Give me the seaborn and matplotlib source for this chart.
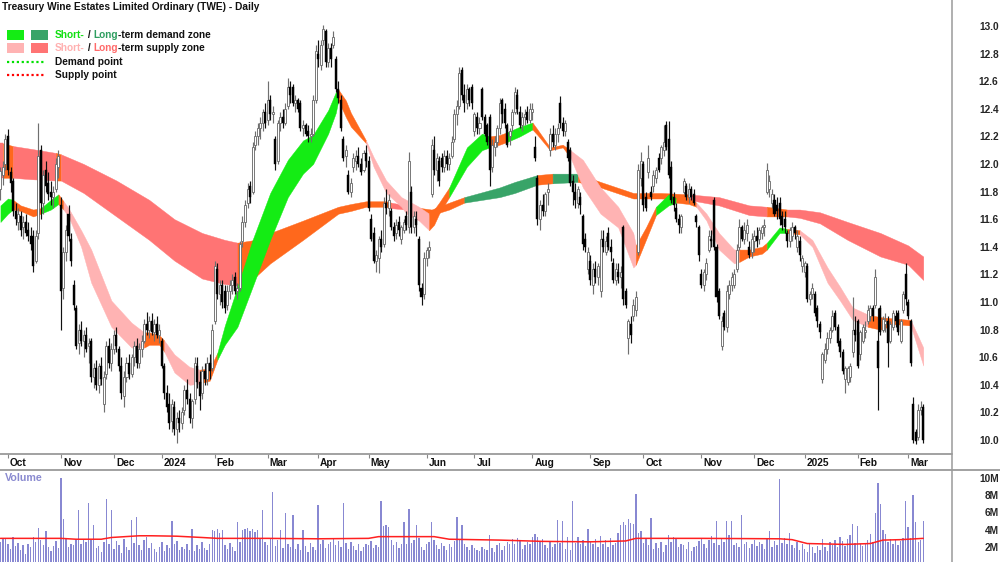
import numpy as np
import matplotlib
matplotlib.use("Agg")
import matplotlib.pyplot as plt
import seaborn as sns
from matplotlib.lines import Line2D
from matplotlib.patches import Rectangle
from matplotlib.text import Annotation

sns.set_theme(style="white")
plt.rcParams['font.family'] = ['Liberation Sans', 'DejaVu Sans']

# ---------------- data ----------------
title = "Treasury Wine Estates Limited Ordinary (TWE) - Daily"
month_labels = ["Oct", "Nov", "Dec", "2024", "Feb", "Mar", "Apr", "May", "Jun", "Jul",
                "Aug", "Sep", "Oct", "Nov", "Dec", "2025", "Feb", "Mar"]
month_start = [3, 24, 45, 64, 85, 106, 126, 146, 169, 188, 211, 234, 255, 278, 299, 319, 340, 360]

opens = [
    11.82, 11.92, 12.00, 12.20, 11.94, 11.88, 11.66, 11.58, 11.62, 11.54,
    11.58, 11.52, 11.48, 11.48, 11.30, 11.50, 12.10, 11.72, 11.96, 11.86,
    11.80, 11.76, 11.82, 11.98, 11.70, 11.10, 11.36, 11.64, 11.46, 11.12,
    10.96, 10.70, 10.80, 10.72, 10.76, 10.68, 10.72, 10.46, 10.52, 10.40,
    10.54, 10.26, 10.48, 10.68, 10.56, 10.66, 10.76, 10.66, 10.54, 10.32,
    10.46, 10.56, 10.48, 10.60, 10.68, 10.56, 10.66, 10.72, 10.84, 10.80,
    10.86, 10.78, 10.84, 10.76, 10.72, 10.54, 10.34, 10.26, 10.14, 10.24,
    10.08, 10.16, 10.12, 10.22, 10.36, 10.30, 10.16, 10.30, 10.54, 10.42,
    10.34, 10.50, 10.44, 10.56, 10.52, 10.86, 11.24, 11.06, 11.12, 11.08,
    10.98, 11.08, 11.12, 11.18, 11.08, 11.10, 11.44, 11.58, 11.72, 11.84,
    11.80, 12.14, 12.20, 12.26, 12.30, 12.38, 12.32, 12.46, 12.36, 12.18,
    12.02, 12.30, 12.34, 12.30, 12.42, 12.56, 12.56, 12.44, 12.46, 12.44,
    12.26, 12.28, 12.24, 12.20, 12.22, 12.46, 12.80, 12.72, 12.90, 12.96,
    12.74, 12.84, 12.86, 12.76, 12.54, 12.46, 12.18, 12.06, 11.92, 11.80,
    11.98, 12.02, 12.06, 12.00, 11.96, 12.08, 12.02, 11.60, 11.50, 11.30,
    11.32, 11.46, 11.42, 11.72, 11.68, 11.66, 11.54, 11.50, 11.58, 11.46,
    11.52, 11.62, 11.54, 11.80, 11.54, 11.60, 11.46, 11.10, 11.06, 11.32,
    11.38, 11.78, 12.10, 11.96, 12.02, 12.04, 11.98, 12.06, 12.00, 12.06,
    12.18, 12.36, 12.42, 12.68, 12.50, 12.44, 12.54, 12.56, 12.24, 12.34,
    12.26, 12.54, 12.34, 12.28, 12.34, 11.98, 12.12, 12.16, 12.26, 12.46,
    12.40, 12.28, 12.20, 12.28, 12.38, 12.50, 12.38, 12.28, 12.34, 12.38,
    12.32, 12.38, 12.12, 11.90, 11.60, 11.70, 11.66, 11.80, 12.10, 12.22,
    12.14, 12.22, 12.44, 12.30, 12.24, 12.16, 12.10, 11.88, 11.80, 11.72,
    11.76, 11.62, 11.46, 11.24, 11.30, 11.12, 11.24, 11.18, 11.08, 11.46,
    11.36, 11.50, 11.40, 11.28, 11.16, 11.22, 11.18, 11.54, 11.08, 10.74,
    10.84, 10.90, 10.94, 11.36, 11.90, 12.00, 11.76, 11.94, 11.80, 11.84,
    11.90, 12.04, 12.04, 12.10, 12.28, 12.18, 11.98, 11.76, 11.68, 11.60,
    11.54, 11.80, 11.84, 11.76, 11.82, 11.78, 11.62, 11.54, 11.20, 11.12,
    11.20, 11.38, 11.46, 11.74, 11.40, 11.08, 10.68, 10.92, 10.82, 11.06,
    11.12, 11.12, 11.24, 11.40, 11.54, 11.46, 11.50, 11.40, 11.36, 11.44,
    11.48, 11.46, 11.50, 11.54, 11.80, 11.82, 11.72, 11.74, 11.70, 11.72,
    11.62, 11.60, 11.50, 11.44, 11.48, 11.54, 11.40, 11.44, 11.26, 11.22,
    11.26, 11.02, 11.06, 11.06, 10.96, 10.84, 10.44, 10.58, 10.66, 10.74,
    10.80, 10.92, 10.82, 10.72, 10.64, 10.44, 10.42, 10.46, 10.64, 10.80,
    10.86, 10.62, 10.72, 10.78, 10.86, 10.90, 10.96, 10.98, 10.72, 10.96,
    10.80, 10.84, 10.86, 10.72, 10.82, 10.90, 10.92, 10.72, 10.94, 11.20,
    11.00, 10.86, 10.26, 10.06, 10.02, 10.22, 10.24]

highs = [
    11.98, 12.02, 12.22, 12.25, 11.98, 11.90, 11.72, 11.68, 11.66, 11.62,
    11.64, 11.58, 11.54, 11.52, 11.52, 12.30, 12.14, 11.96, 12.02, 11.94,
    11.88, 11.84, 12.04, 12.10, 11.76, 11.40, 11.56, 11.70, 11.50, 11.16,
    10.98, 10.84, 10.86, 10.80, 10.82, 10.74, 10.74, 10.56, 10.58, 10.56,
    10.60, 10.50, 10.72, 10.74, 10.70, 10.80, 10.82, 10.68, 10.60, 10.50,
    10.60, 10.62, 10.62, 10.72, 10.74, 10.70, 10.76, 10.88, 10.93, 10.90,
    10.92, 10.88, 10.90, 10.84, 10.74, 10.56, 10.40, 10.34, 10.30, 10.28,
    10.20, 10.22, 10.24, 10.40, 10.44, 10.34, 10.30, 10.60, 10.60, 10.50,
    10.54, 10.56, 10.60, 10.62, 10.84, 11.30, 11.28, 11.16, 11.16, 11.12,
    11.12, 11.16, 11.20, 11.22, 11.14, 11.44, 11.62, 11.74, 11.86, 11.88,
    12.16, 12.24, 12.30, 12.34, 12.40, 12.44, 12.60, 12.50, 12.42, 12.20,
    12.32, 12.38, 12.40, 12.44, 12.62, 12.60, 12.58, 12.50, 12.48, 12.46,
    12.32, 12.30, 12.28, 12.26, 12.50, 12.86, 12.90, 12.90, 13.01, 12.98,
    12.88, 12.88, 12.96, 12.78, 12.60, 12.50, 12.20, 12.14, 11.96, 11.90,
    12.08, 12.10, 12.12, 12.04, 12.10, 12.14, 12.06, 11.64, 11.54, 11.38,
    11.48, 11.52, 11.76, 11.82, 11.78, 11.68, 11.58, 11.60, 11.62, 11.56,
    11.60, 11.66, 12.09, 11.84, 11.66, 11.66, 11.48, 11.14, 11.36, 11.40,
    11.44, 12.18, 12.20, 12.08, 12.06, 12.08, 12.10, 12.10, 12.08, 12.20,
    12.40, 12.46, 12.70, 12.70, 12.58, 12.58, 12.56, 12.58, 12.38, 12.38,
    12.34, 12.56, 12.36, 12.30, 12.36, 12.18, 12.20, 12.28, 12.48, 12.48,
    12.44, 12.30, 12.26, 12.40, 12.56, 12.54, 12.42, 12.38, 12.40, 12.42,
    12.44, 12.44, 12.20, 11.92, 11.74, 11.78, 11.80, 11.86, 12.26, 12.28,
    12.26, 12.30, 12.49, 12.34, 12.32, 12.18, 12.12, 11.92, 11.86, 11.84,
    11.80, 11.64, 11.50, 11.40, 11.34, 11.28, 11.30, 11.28, 11.52, 11.52,
    11.48, 11.54, 11.46, 11.32, 11.28, 11.28, 11.26, 11.56, 11.10, 10.88,
    10.90, 11.02, 11.08, 12.00, 12.09, 12.02, 11.80, 12.14, 11.84, 11.96,
    11.98, 12.08, 12.14, 12.28, 12.31, 12.31, 12.02, 11.80, 11.72, 11.64,
    11.64, 11.90, 11.86, 11.86, 11.84, 11.82, 11.64, 11.56, 11.24, 11.24,
    11.32, 11.52, 11.52, 11.76, 11.42, 11.10, 10.90, 10.94, 11.12, 11.16,
    11.22, 11.24, 11.42, 11.60, 11.56, 11.58, 11.60, 11.44, 11.50, 11.52,
    11.54, 11.54, 11.56, 11.60, 12.01, 11.92, 11.82, 11.78, 11.76, 11.76,
    11.66, 11.66, 11.52, 11.54, 11.58, 11.56, 11.52, 11.48, 11.34, 11.30,
    11.28, 11.08, 11.14, 11.08, 10.98, 10.86, 10.64, 10.70, 10.78, 10.82,
    10.94, 10.94, 10.84, 10.74, 10.66, 10.54, 10.54, 10.56, 11.04, 10.90,
    10.88, 10.80, 10.84, 10.86, 10.98, 10.98, 10.98, 11.24, 10.96, 10.98,
    10.90, 10.92, 10.90, 10.86, 10.94, 10.94, 10.94, 10.88, 11.08, 11.28,
    11.02, 10.88, 10.31, 10.08, 10.26, 10.28, 10.26]

lows = [
    11.74, 11.85, 11.96, 11.92, 11.80, 11.62, 11.56, 11.52, 11.48, 11.46,
    11.48, 11.44, 11.38, 11.22, 11.28, 11.46, 11.60, 11.64, 11.80, 11.74,
    11.70, 11.68, 11.80, 11.90, 10.80, 11.02, 11.30, 11.44, 11.26, 10.94,
    10.66, 10.62, 10.68, 10.60, 10.64, 10.56, 10.42, 10.38, 10.36, 10.34,
    10.40, 10.20, 10.44, 10.52, 10.50, 10.62, 10.64, 10.50, 10.30, 10.24,
    10.42, 10.44, 10.46, 10.54, 10.52, 10.52, 10.60, 10.70, 10.76, 10.74,
    10.76, 10.72, 10.74, 10.70, 10.52, 10.30, 10.20, 10.08, 10.06, 10.04,
    9.98, 10.06, 10.08, 10.18, 10.26, 10.12, 10.09, 10.26, 10.38, 10.22,
    10.30, 10.40, 10.40, 10.44, 10.50, 10.84, 11.02, 10.98, 10.96, 10.92,
    10.94, 11.02, 11.06, 11.06, 11.02, 11.08, 11.40, 11.54, 11.68, 11.72,
    11.78, 12.10, 12.14, 12.18, 12.24, 12.26, 12.28, 12.32, 12.30, 11.96,
    12.00, 12.24, 12.26, 12.28, 12.40, 12.44, 12.42, 12.38, 12.38, 12.24,
    12.20, 12.20, 12.16, 12.16, 12.20, 12.44, 12.70, 12.68, 12.86, 12.70,
    12.70, 12.70, 12.84, 12.52, 12.44, 12.24, 12.02, 11.98, 11.78, 11.76,
    11.94, 11.96, 11.98, 11.92, 11.94, 11.98, 11.66, 11.44, 11.28, 11.22,
    11.21, 11.36, 11.40, 11.64, 11.62, 11.52, 11.44, 11.46, 11.48, 11.42,
    11.50, 11.52, 11.50, 11.50, 11.50, 11.48, 11.08, 10.98, 11.02, 11.26,
    11.32, 11.76, 11.92, 11.88, 11.84, 11.94, 11.94, 11.96, 11.96, 12.04,
    12.16, 12.28, 12.40, 12.46, 12.38, 12.40, 12.42, 12.40, 12.20, 12.22,
    12.22, 12.32, 12.20, 12.14, 11.84, 11.94, 12.06, 12.12, 12.22, 12.30,
    12.26, 12.12, 12.14, 12.24, 12.36, 12.36, 12.26, 12.24, 12.28, 12.30,
    12.30, 12.32, 12.02, 11.56, 11.52, 11.62, 11.62, 11.70, 12.06, 12.12,
    12.10, 12.16, 12.26, 12.20, 12.20, 12.02, 11.84, 11.70, 11.68, 11.68,
    11.64, 11.38, 11.36, 11.20, 11.12, 11.06, 11.14, 11.12, 11.04, 11.36,
    11.34, 11.38, 11.30, 11.14, 11.12, 11.14, 11.10, 10.98, 10.96, 10.62,
    10.70, 10.86, 10.90, 11.34, 11.84, 11.66, 11.66, 11.90, 11.74, 11.80,
    11.86, 11.94, 12.00, 12.06, 12.10, 11.90, 11.72, 11.66, 11.58, 11.50,
    11.50, 11.78, 11.74, 11.72, 11.74, 11.70, 11.54, 11.30, 11.10, 11.08,
    11.16, 11.36, 11.40, 11.38, 11.00, 10.88, 10.65, 10.80, 10.78, 11.02,
    11.08, 11.10, 11.22, 11.38, 11.44, 11.42, 11.44, 11.32, 11.32, 11.36,
    11.40, 11.42, 11.46, 11.48, 11.78, 11.76, 11.68, 11.62, 11.60, 11.56,
    11.52, 11.50, 11.40, 11.40, 11.44, 11.46, 11.36, 11.30, 11.22, 11.18,
    11.00, 10.98, 11.02, 10.90, 10.82, 10.74, 10.41, 10.56, 10.62, 10.70,
    10.78, 10.80, 10.68, 10.60, 10.48, 10.34, 10.40, 10.42, 10.60, 10.72,
    10.52, 10.58, 10.70, 10.74, 10.84, 10.86, 10.86, 10.96, 10.22, 10.76,
    10.78, 10.78, 10.53, 10.70, 10.80, 10.82, 10.76, 10.70, 10.92, 10.98,
    10.88, 10.54, 9.98, 9.97, 10.00, 10.18, 9.98]

closes = [
    11.95, 11.98, 12.18, 11.96, 11.86, 11.66, 11.60, 11.64, 11.52, 11.58,
    11.50, 11.48, 11.42, 11.26, 11.48, 12.06, 11.72, 11.92, 11.84, 11.78,
    11.76, 11.80, 12.00, 12.06, 11.08, 11.36, 11.52, 11.48, 11.30, 10.98,
    10.68, 10.80, 10.72, 10.76, 10.66, 10.70, 10.46, 10.52, 10.40, 10.54,
    10.44, 10.46, 10.68, 10.56, 10.66, 10.76, 10.68, 10.54, 10.34, 10.46,
    10.56, 10.48, 10.60, 10.68, 10.56, 10.66, 10.72, 10.84, 10.80, 10.86,
    10.78, 10.84, 10.76, 10.80, 10.54, 10.34, 10.24, 10.12, 10.26, 10.08,
    10.16, 10.12, 10.20, 10.36, 10.30, 10.16, 10.28, 10.56, 10.42, 10.32,
    10.50, 10.44, 10.56, 10.50, 10.80, 11.26, 11.06, 11.12, 11.00, 10.96,
    11.08, 11.12, 11.16, 11.08, 11.10, 11.42, 11.58, 11.70, 11.82, 11.76,
    12.12, 12.20, 12.26, 12.30, 12.38, 12.30, 12.46, 12.36, 12.38, 12.00,
    12.30, 12.34, 12.30, 12.40, 12.56, 12.50, 12.44, 12.46, 12.40, 12.26,
    12.28, 12.22, 12.20, 12.22, 12.46, 12.82, 12.76, 12.86, 12.98, 12.74,
    12.84, 12.76, 12.92, 12.54, 12.48, 12.26, 12.04, 12.10, 11.80, 11.86,
    12.04, 12.06, 12.00, 11.94, 12.08, 12.02, 11.68, 11.46, 11.30, 11.34,
    11.46, 11.40, 11.72, 11.68, 11.74, 11.54, 11.48, 11.56, 11.52, 11.54,
    11.58, 11.56, 12.02, 11.54, 11.62, 11.56, 11.12, 11.04, 11.32, 11.38,
    11.40, 12.14, 11.96, 12.04, 11.88, 11.98, 12.06, 12.00, 12.04, 12.16,
    12.36, 12.42, 12.66, 12.50, 12.44, 12.54, 12.46, 12.44, 12.36, 12.26,
    12.30, 12.34, 12.22, 12.16, 11.96, 12.14, 12.16, 12.26, 12.44, 12.36,
    12.30, 12.14, 12.24, 12.38, 12.52, 12.40, 12.28, 12.34, 12.36, 12.32,
    12.40, 12.40, 12.04, 11.60, 11.70, 11.66, 11.78, 11.82, 12.22, 12.16,
    12.22, 12.26, 12.30, 12.24, 12.30, 12.04, 11.86, 11.80, 11.74, 11.82,
    11.70, 11.42, 11.40, 11.36, 11.16, 11.24, 11.18, 11.26, 11.46, 11.40,
    11.44, 11.40, 11.36, 11.16, 11.24, 11.18, 11.22, 11.02, 10.98, 10.86,
    10.76, 10.98, 11.04, 11.96, 12.02, 11.70, 11.68, 12.04, 11.76, 11.92,
    11.96, 11.96, 12.12, 12.16, 12.12, 11.92, 11.74, 11.70, 11.60, 11.56,
    11.62, 11.88, 11.76, 11.82, 11.76, 11.72, 11.58, 11.34, 11.12, 11.22,
    11.28, 11.48, 11.44, 11.40, 11.04, 10.90, 10.86, 10.82, 11.08, 11.12,
    11.18, 11.20, 11.38, 11.54, 11.46, 11.52, 11.56, 11.34, 11.46, 11.48,
    11.44, 11.52, 11.54, 11.56, 11.96, 11.88, 11.78, 11.64, 11.66, 11.60,
    11.56, 11.54, 11.44, 11.52, 11.54, 11.50, 11.48, 11.34, 11.32, 11.28,
    11.02, 11.06, 11.10, 10.92, 10.86, 10.78, 10.62, 10.66, 10.74, 10.80,
    10.90, 10.82, 10.70, 10.64, 10.50, 10.52, 10.52, 10.54, 10.80, 10.76,
    10.54, 10.78, 10.82, 10.80, 10.94, 10.96, 10.90, 11.18, 10.52, 10.78,
    10.88, 10.86, 10.70, 10.84, 10.92, 10.86, 10.78, 10.86, 11.06, 11.02,
    10.90, 10.56, 10.00, 9.99, 10.22, 10.24, 10.00]

volume_m = [
    2.6, 3.0, 2.9, 2.4, 1.8, 3.2, 2.1, 2.5, 1.6, 2.2,
    1.2, 2.3, 2.0, 3.1, 2.6, 4.2, 2.8, 2.2, 3.9, 2.0,
    1.5, 2.1, 2.7, 1.9, 10.0, 5.3, 2.9, 2.0, 2.3, 2.2,
    2.9, 6.3, 2.4, 2.9, 2.6, 7.1, 2.8, 4.5, 1.9, 2.1,
    1.4, 2.6, 7.6, 2.3, 6.3, 1.8, 2.7, 2.2, 1.3, 2.9,
    2.0, 1.6, 5.1, 2.5, 5.5, 2.2, 1.7, 2.8, 3.2, 1.9,
    2.5, 1.8, 1.4, 2.0, 2.6, 1.5, 2.2, 1.9, 5.0, 2.3,
    2.7, 1.6, 2.0, 1.8, 2.4, 1.7, 4.1, 1.5, 2.2, 1.8,
    2.6, 1.9, 1.6, 2.3, 4.0, 3.9, 4.1, 3.6, 4.0, 2.2,
    1.8, 2.5, 2.0, 1.5, 4.9, 2.6, 4.0, 4.1, 4.2, 3.8,
    4.1, 3.7, 4.0, 2.9, 6.3, 2.6, 2.2, 3.0, 8.4, 2.1,
    2.8, 4.0, 1.9, 5.9, 2.4, 2.0, 5.7, 1.8, 2.3, 1.6,
    4.0, 2.1, 1.4, 2.5, 2.0, 1.7, 6.9, 2.3, 2.8, 1.9,
    2.4, 2.6, 3.0, 2.2, 2.7, 2.0, 7.1, 2.5, 1.8, 2.6,
    2.1, 1.7, 2.3, 1.5, 2.0, 2.4, 2.2, 2.7, 1.9, 2.2,
    2.0, 7.3, 4.4, 4.5, 4.3, 2.8, 2.2, 2.6, 1.9, 2.4,
    4.9, 2.3, 6.4, 2.5, 2.8, 4.5, 3.0, 2.0, 1.7, 2.3,
    2.6, 4.9, 2.8, 2.2, 1.8, 2.5, 2.1, 1.6, 2.4, 2.0,
    2.7, 5.5, 2.9, 4.6, 2.4, 2.0, 1.6, 2.2, 1.9, 1.7,
    1.5, 2.0, 1.8, 1.6, 3.4, 1.9, 1.4, 2.2, 2.5, 1.7,
    2.1, 2.6, 2.4, 2.9, 2.3, 3.0, 2.7, 1.8, 2.2, 2.6,
    2.4, 3.2, 3.5, 3.1, 2.6, 2.9, 2.2, 1.9, 2.6, 2.0,
    2.3, 5.1, 2.5, 5.0, 1.8, 3.2, 1.6, 7.3, 2.5, 3.2,
    2.4, 2.8, 2.1, 4.1, 2.6, 2.3, 2.9, 2.0, 3.3, 2.4,
    2.8, 2.0, 3.0, 2.2, 2.5, 3.6, 4.5, 4.9, 4.6, 5.2,
    4.8, 4.7, 8.2, 3.6, 3.8, 2.5, 2.9, 2.2, 5.4, 1.8,
    2.5, 1.9, 2.6, 1.4, 2.2, 3.4, 2.6, 3.1, 2.9, 2.0,
    2.4, 2.2, 1.8, 2.6, 1.5, 2.0, 2.1, 2.7, 3.0, 2.4,
    1.9, 2.8, 3.3, 2.5, 5.0, 2.2, 3.0, 2.6, 5.0, 3.4,
    5.0, 2.2, 2.5, 2.0, 5.7, 2.3, 2.6, 1.9, 2.4, 2.8,
    2.1, 2.6, 2.3, 1.8, 2.9, 3.8, 2.0, 2.7, 2.2, 9.9,
    2.5, 3.0, 2.4, 3.6, 2.2, 1.9, 2.6, 1.6, 2.3, 1.8,
    1.4, 2.4, 2.0, 1.3, 2.1, 1.7, 2.9, 2.0, 1.5, 2.6,
    2.2, 2.8, 2.0, 3.2, 2.7, 2.1, 2.9, 3.4, 4.7, 2.5,
    4.4, 2.3, 2.1, 2.4, 2.8, 3.5, 2.6, 5.9, 9.4, 7.0,
    4.0, 3.5, 2.6, 2.9, 2.3, 2.8, 2.2, 2.7, 3.0, 7.3,
    4.3, 3.0, 8.0, 4.9, 2.6, 2.8, 5.0]

ma_idx = [0, 24, 30, 40, 44, 55, 60, 70, 80, 86, 106, 126, 146, 150, 172,
          178, 198, 215, 234, 248, 252, 278, 309, 314, 320, 335, 345, 350, 357, 366]
ma_vals = [3.0, 3.0, 2.9, 2.9, 3.1, 3.3, 3.3, 3.25, 3.1, 3.0, 3.0, 2.95, 3.0, 3.2, 3.2,
           2.9, 2.8, 2.65, 2.6, 2.7, 3.0, 3.0, 2.95, 2.85, 2.4, 2.3, 2.4, 2.8, 2.85, 3.0]

# short-term zone (sampled bar index, upper edge, lower edge, state of following stretch)
short_idx = [0, 3, 5, 8, 13, 16, 20, 23, 25, 27,
             32, 36, 44, 52, 57, 59, 63, 65, 69, 75,
             79, 83, 86, 89, 94, 100, 107, 114, 120, 124,
             130, 133, 134, 137, 139, 145, 148, 153, 159, 161,
             166, 170, 172, 174, 178, 185, 191, 194, 198, 201,
             206, 211, 213, 218, 223, 226, 231, 238, 245, 251,
             252, 256, 260, 265, 268, 273, 276, 280, 285, 291,
             293, 297, 302, 304, 309, 312, 317, 322, 328, 333,
             338, 344, 349, 355, 361, 366]
short_top = [11.70, 11.75, 11.74, 11.70, 11.67, 11.68, 11.74, 11.78, 11.73, 11.68,
             11.52, 11.38, 11.01, 10.85, 10.78, 10.78, 10.76, 10.72, 10.62, 10.53,
             10.51, 10.52, 10.63, 10.83, 11.11, 11.45, 11.79, 12.03, 12.17, 12.21,
             12.39, 12.52, 12.54, 12.46, 12.37, 12.17, 12.05, 11.88, 11.76, 11.74,
             11.69, 11.64, 11.67, 11.72, 11.83, 12.12, 12.22, 12.20, 12.21, 12.23,
             12.27, 12.30, 12.25, 12.12, 12.14, 12.10, 12.03, 11.83, 11.69, 11.50,
             11.41, 11.54, 11.69, 11.78, 11.75, 11.75, 11.72, 11.64, 11.50, 11.38,
             11.38, 11.38, 11.40, 11.43, 11.54, 11.53, 11.52, 11.45, 11.25, 11.11,
             10.96, 10.91, 10.89, 10.88, 10.87, 10.67]
short_bot = [11.58, 11.64, 11.67, 11.66, 11.62, 11.64, 11.67, 11.71, 11.67, 11.62,
             11.40, 11.14, 10.82, 10.67, 10.67, 10.69, 10.69, 10.64, 10.49, 10.40,
             10.41, 10.43, 10.58, 10.69, 10.82, 11.11, 11.45, 11.76, 11.93, 12.00,
             12.22, 12.37, 12.46, 12.34, 12.27, 12.15, 11.98, 11.79, 11.69, 11.64,
             11.59, 11.52, 11.56, 11.64, 11.76, 11.98, 12.10, 12.12, 12.14, 12.16,
             12.20, 12.25, 12.21, 12.10, 12.12, 12.05, 11.83, 11.64, 11.54, 11.25,
             11.27, 11.45, 11.63, 11.70, 11.72, 11.71, 11.69, 11.59, 11.38, 11.28,
             11.29, 11.33, 11.35, 11.38, 11.50, 11.50, 11.49, 11.40, 11.14, 11.01,
             10.87, 10.82, 10.80, 10.84, 10.83, 10.54]
short_state = ("DDNNNDDNSS" "SSSSNNNSSS" "NNDDDDDDDD" "DDNNNSSSSS" "SNNNDDDNND"
               "DNNNNSSSSS" "NNDDNNSSSS" "NNNDDNSSSS" "SNNNSS")

long_idx = [0, 1, 5, 12, 22, 24, 33, 46, 59, 69,
            80, 89, 94, 101, 107, 120, 134, 139, 145, 153,
            155, 161, 163, 171, 178, 184, 198, 204, 213, 219,
            229, 238, 251, 262, 273, 285, 297, 304, 312, 317,
            325, 336, 349, 360, 366]
long_top = [12.15, 12.15, 12.13, 12.11, 12.08, 12.07, 12.00, 11.88, 11.74, 11.60,
            11.50, 11.45, 11.43, 11.45, 11.50, 11.59, 11.69, 11.71, 11.73, 11.73,
            11.72, 11.70, 11.69, 11.67, 11.72, 11.76, 11.83, 11.87, 11.92, 11.93,
            11.93, 11.87, 11.79, 11.79, 11.78, 11.76, 11.70, 11.69, 11.67, 11.67,
            11.65, 11.58, 11.50, 11.41, 11.33]
long_bot = [11.90, 11.90, 11.90, 11.89, 11.88, 11.88, 11.79, 11.62, 11.45, 11.30,
            11.17, 11.13, 11.12, 11.18, 11.28, 11.45, 11.64, 11.66, 11.69, 11.69,
            11.68, 11.67, 11.66, 11.63, 11.67, 11.72, 11.76, 11.79, 11.85, 11.86,
            11.87, 11.83, 11.75, 11.75, 11.74, 11.70, 11.63, 11.62, 11.62, 11.61,
            11.57, 11.45, 11.33, 11.27, 11.16]
long_state = "SNSSNSSSSS" "SSNNNNNNNN" "SSNNNLLLNL" "NNNNSSSNSS" "SSSSS"

# ---------------- styling ----------------
C_SHORT = {"D": "#14ec14", "S": "#ffb3b3", "N": "#ff681c"}
C_LONG = {"L": "#38a468", "S": "#ff7474", "N": "#ff681c"}
VOL_COLOR = "#8888d2"
FS = 7.3

W, H = 1000, 562
fig = plt.figure(figsize=(W / 100, H / 100), dpi=100)
fig.patch.set_facecolor("white")


def rect(l, t, r, b):
    return [l / W, 1 - b / H, (r - l) / W, (b - t) / H]


ax = fig.add_axes(rect(0, 0, 952, 454))
axl = fig.add_axes(rect(0, 454, 952, 469))
axv = fig.add_axes(rect(0, 469, 952, 562))

XL = (-0.17, 377.4)


def draw_zone(axis, idx, top, bot, states, cmap):
    idx = np.asarray(idx, float)
    top = np.asarray(top, float)
    bot = np.asarray(bot, float)
    start = 0
    n = len(idx)
    for k in range(1, n):
        if k == n - 1 or states[k] != states[start]:
            sl = slice(start, k + 1)
            axis.fill_between(idx[sl], bot[sl], top[sl], color=cmap[states[start]],
                              linewidth=0.3, edgecolor=cmap[states[start]], zorder=1)
            start = k


draw_zone(ax, long_idx, long_top, long_bot, long_state, C_LONG)
draw_zone(ax, short_idx, short_top, short_bot, short_state, C_SHORT)

# candles
o = np.array(opens); h = np.array(highs); l = np.array(lows); c = np.array(closes)
x = np.arange(len(c))
up = c >= o
body_bot = np.minimum(o, c)
body_h = np.maximum(np.abs(c - o), 0.012)
ax.vlines(x[up], l[up], h[up], color="#6f6f6f", linewidth=0.85, zorder=3)
ax.vlines(x[~up], l[~up], h[~up], color="#111111", linewidth=0.85, zorder=3)
ax.bar(x[up], body_h[up], bottom=body_bot[up], width=0.8, facecolor="white",
       edgecolor="#6f6f6f", linewidth=0.65, zorder=4)
ax.bar(x[~up], body_h[~up], bottom=body_bot[~up], width=0.8, facecolor="black",
       edgecolor="black", linewidth=0.3, zorder=4)

ax.set_xlim(*XL)
ax.set_ylim(9.899, 13.188)
price_ticks = np.round(np.arange(10.0, 13.01, 0.2), 1)
ax.yaxis.tick_right()
ax.set_yticks(price_ticks)
ax.set_yticklabels([f"{v:.1f}" for v in price_ticks])
ax.tick_params(axis="y", length=0, pad=33.5, labelsize=FS)
for t in ax.get_yticklabels():
    t.set_horizontalalignment("right")
    t.set_fontweight("bold")
ax.set_xticks([])
for s in ax.spines.values():
    s.set_visible(False)

# month strip
axl.set_xlim(*XL)
axl.set_ylim(0, 1)
axl.set_yticks([])
axl.set_xticks(month_start)
axl.tick_params(axis="x", bottom=False, top=True, direction="in", length=3,
                color="#888888", width=0.8, labelbottom=False, labeltop=False)
for s in axl.spines.values():
    s.set_visible(False)
for idx_m, lab in zip(month_start, month_labels):
    axl.text(idx_m + 0.8, 0.42, lab, ha="left", va="center", fontsize=FS,
             fontweight="bold", color="#111111")

# volume
sns.barplot(x=x, y=volume_m, native_scale=True, color=VOL_COLOR, saturation=1,
            width=0.56, errorbar=None, linewidth=0, ax=axv)
sns.lineplot(x=ma_idx, y=ma_vals, color="#ff2020", linewidth=1.1, ax=axv, zorder=5)
axv.set_xlim(*XL)
axv.set_ylim(0.26, 11.04)
axv.set_xlabel(""); axv.set_ylabel("")
axv.set_xticks([])
axv.yaxis.tick_right()
vticks = [2, 4, 6, 8, 10]
axv.set_yticks(vticks)
axv.set_yticklabels([f"{v}M" for v in vticks])
axv.tick_params(axis="y", length=0, pad=33.5, labelsize=FS)
for t in axv.get_yticklabels():
    t.set_horizontalalignment("right")
    t.set_fontweight("bold")
for s in axv.spines.values():
    s.set_visible(False)
fig.text(5 / W, 1 - 478 / H, "Volume", color="#8a8ad0", fontsize=FS + 0.4,
         fontweight="bold", ha="left", va="center")

# frame lines
LC = "#9a9a9a"
fig.add_artist(Line2D([952 / W, 952 / W], [0, 1], transform=fig.transFigure, color=LC, lw=1.1))
fig.add_artist(Line2D([0, 952 / W], [1 - 454 / H] * 2, transform=fig.transFigure, color=LC, lw=1.3))
fig.add_artist(Line2D([0, 1], [1 - 469.5 / H] * 2, transform=fig.transFigure, color=LC, lw=1.3))

# title and legend
fig.text(2 / W, 1 - 7.5 / H, title, ha="left", va="center", fontsize=FS,
         fontweight="bold", color="#111111")


def colored_line(xp, yp, parts):
    t = fig.text(xp / W, 1 - yp / H, parts[0][0], color=parts[0][1], fontsize=FS,
                 fontweight="bold", ha="left", va="center")
    for s, col in parts[1:]:
        a = Annotation(s, xy=(1, 0), xycoords=t, ha="left", va="bottom", color=col,
                       fontsize=FS, fontweight="bold")
        fig.add_artist(a)
        t = a


fig.add_artist(Rectangle((7 / W, 1 - 40 / H), 17 / W, 10 / H, transform=fig.transFigure,
                         color=C_SHORT["D"], lw=0))
fig.add_artist(Rectangle((31 / W, 1 - 40 / H), 17 / W, 10 / H, transform=fig.transFigure,
                         color=C_LONG["L"], lw=0))
fig.add_artist(Rectangle((7 / W, 1 - 53 / H), 17 / W, 10 / H, transform=fig.transFigure,
                         color=C_SHORT["S"], lw=0))
fig.add_artist(Rectangle((31 / W, 1 - 53 / H), 17 / W, 10 / H, transform=fig.transFigure,
                         color=C_LONG["S"], lw=0))
colored_line(55, 35, [("Short-", "#10e010"), (" / ", "#111111"), ("Long", "#2f9e60"),
                      ("-term demand zone", "#111111")])
colored_line(55, 48, [("Short-", "#ffb0b0"), (" / ", "#111111"), ("Long", "#ff6a6a"),
                      ("-term supply zone", "#111111")])
fig.add_artist(Line2D([7 / W, 44 / W], [1 - 62 / H] * 2, transform=fig.transFigure,
                      color="#00e000", lw=1.6, linestyle=(0, (1, 1.2))))
fig.add_artist(Line2D([7 / W, 44 / W], [1 - 75 / H] * 2, transform=fig.transFigure,
                      color="#ff0000", lw=1.6, linestyle=(0, (1, 1.2))))
fig.text(55 / W, 1 - 62 / H, "Demand point", fontsize=FS, fontweight="bold",
         ha="left", va="center", color="#111111")
fig.text(55 / W, 1 - 75 / H, "Supply point", fontsize=FS, fontweight="bold",
         ha="left", va="center", color="#111111")

fig.savefig("out.png", dpi=100, facecolor="white")
